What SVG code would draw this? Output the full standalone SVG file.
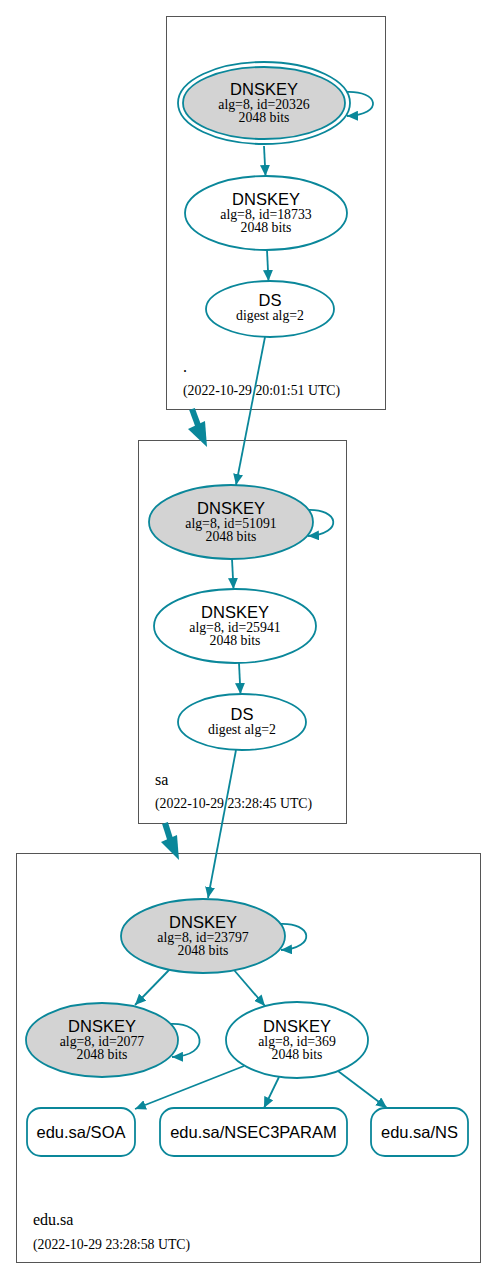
<svg xmlns="http://www.w3.org/2000/svg" width="496" height="1278" viewBox="0 0 496 1278">
<defs>
<marker id="ah" markerUnits="userSpaceOnUse" markerWidth="12" markerHeight="10" refX="11" refY="5" orient="auto">
<path d="M0,0 L11,5 L0,10 z" fill="#0a879a"/>
</marker>
</defs>
<style>
.cl{fill:#fff;stroke:#555;stroke-width:1}
.nd{stroke:#0a879a;stroke-width:1.8;fill:#fff}
.gy{fill:#d3d3d3}
.e{stroke:#0a879a;stroke-width:1.8;fill:none;marker-end:url(#ah)}
.t1{font-family:"Liberation Sans",Arial,sans-serif;font-size:16.5px;text-anchor:middle;fill:#000}
.t2{font-family:"Liberation Serif","Times New Roman",serif;font-size:13.8px;text-anchor:middle;fill:#000}
.lb{font-family:"Liberation Serif","Times New Roman",serif;font-size:16px;fill:#000}
.dt{font-family:"Liberation Serif","Times New Roman",serif;font-size:13.8px;fill:#000}
</style>
<rect width="496" height="1278" fill="#fff"/>
<g id="cluster_root">
<rect class="cl" x="166.5" y="16.5" width="219" height="393"/>
<text class="lb" x="183" y="372">.</text>
<text class="dt" x="183" y="395">(2022-10-29 20:01:51 UTC)</text>
</g>
<g id="cluster_sa">
<rect class="cl" x="138.5" y="440.5" width="208" height="383"/>
<text class="lb" x="155" y="785">sa</text>
<text class="dt" x="155" y="808">(2022-10-29 23:28:45 UTC)</text>
</g>
<g id="cluster_edu_sa">
<rect class="cl" x="16.5" y="853.5" width="464" height="409"/>
<text class="lb" x="33" y="1225">edu.sa</text>
<text class="dt" x="33" y="1249">(2022-10-29 23:28:58 UTC)</text>
</g>
<g id="connectors">
<path class="e" d="M264,146 L265.5,176"/>
<path class="e" d="M267,250 L268.5,281"/>
<path class="e" d="M265,337 L236,485"/>
<path class="e" d="M232,559 L233.5,589"/>
<path class="e" d="M239,663 L240.5,694"/>
<path class="e" d="M236,750 L208,898"/>
<path class="e" d="M170,969 L135,1005"/>
<path class="e" d="M234,970 L265,1006"/>
<path class="e" d="M244,1066 L135,1109"/>
<path class="e" d="M279,1077 L264,1108"/>
<path class="e" d="M338,1071 L387,1108"/>
<path class="e" d="M345,92 C380,90 384,115 347,116"/>
<path class="e" d="M306,510 C340,508 344,534 308,536"/>
<path class="e" d="M279,924 C313,922 317,948 281,950"/>
<path class="e" d="M170,1024 C206,1022 212,1056 172,1057"/>
<path d="M192,409 L199,428" stroke="#0a879a" stroke-width="6" fill="none"/>
<path d="M188,429 L207,447 L205,421 z" fill="#0a879a"/>
<path d="M165,823 L171,842" stroke="#0a879a" stroke-width="6" fill="none"/>
<path d="M161,842 L179,860 L177,835 z" fill="#0a879a"/>
</g>
<g id="dnskey_20326">
<ellipse class="nd" cx="264" cy="103" rx="86" ry="41"/>
<ellipse class="nd gy" cx="264" cy="103" rx="81" ry="36"/>
<text class="t1" x="264" y="95">DNSKEY</text>
<text class="t2" x="264" y="109">alg=8, id=20326</text>
<text class="t2" x="264" y="122">2048 bits</text>
</g>
<g id="dnskey_18733">
<ellipse class="nd" cx="266" cy="213" rx="81" ry="37"/>
<text class="t1" x="266" y="205">DNSKEY</text>
<text class="t2" x="266" y="219">alg=8, id=18733</text>
<text class="t2" x="266" y="232">2048 bits</text>
</g>
<g id="ds_root">
<ellipse class="nd" cx="270" cy="309" rx="64" ry="28"/>
<text class="t1" x="270" y="306">DS</text>
<text class="t2" x="270" y="320">digest alg=2</text>
</g>
<g id="dnskey_51091">
<ellipse class="nd gy" cx="231" cy="522" rx="82" ry="37"/>
<text class="t1" x="231" y="514">DNSKEY</text>
<text class="t2" x="231" y="528">alg=8, id=51091</text>
<text class="t2" x="231" y="541">2048 bits</text>
</g>
<g id="dnskey_25941">
<ellipse class="nd" cx="235" cy="626" rx="81" ry="37"/>
<text class="t1" x="235" y="618">DNSKEY</text>
<text class="t2" x="235" y="632">alg=8, id=25941</text>
<text class="t2" x="235" y="645">2048 bits</text>
</g>
<g id="ds_sa">
<ellipse class="nd" cx="242" cy="722" rx="64" ry="28"/>
<text class="t1" x="242" y="720">DS</text>
<text class="t2" x="242" y="734">digest alg=2</text>
</g>
<g id="dnskey_23797">
<ellipse class="nd gy" cx="203" cy="936" rx="82" ry="37"/>
<text class="t1" x="203" y="928">DNSKEY</text>
<text class="t2" x="203" y="942">alg=8, id=23797</text>
<text class="t2" x="203" y="955">2048 bits</text>
</g>
<g id="dnskey_2077">
<ellipse class="nd gy" cx="102" cy="1040" rx="76" ry="37"/>
<text class="t1" x="102" y="1032">DNSKEY</text>
<text class="t2" x="102" y="1046">alg=8, id=2077</text>
<text class="t2" x="102" y="1059">2048 bits</text>
</g>
<g id="dnskey_369">
<ellipse class="nd" cx="297" cy="1040" rx="71" ry="38"/>
<text class="t1" x="297" y="1032">DNSKEY</text>
<text class="t2" x="297" y="1046">alg=8, id=369</text>
<text class="t2" x="297" y="1059">2048 bits</text>
</g>
<g id="rr_soa">
<rect class="nd" x="27" y="1108" width="108" height="48" rx="14"/>
<text class="t1" x="81" y="1138">edu.sa/SOA</text>
</g>
<g id="rr_nsec3param">
<rect class="nd" x="160" y="1108" width="187" height="48" rx="14"/>
<text class="t1" x="253.5" y="1138">edu.sa/NSEC3PARAM</text>
</g>
<g id="rr_ns">
<rect class="nd" x="371" y="1108" width="97" height="48" rx="14"/>
<text class="t1" x="419.5" y="1138">edu.sa/NS</text>
</g>
</svg>
